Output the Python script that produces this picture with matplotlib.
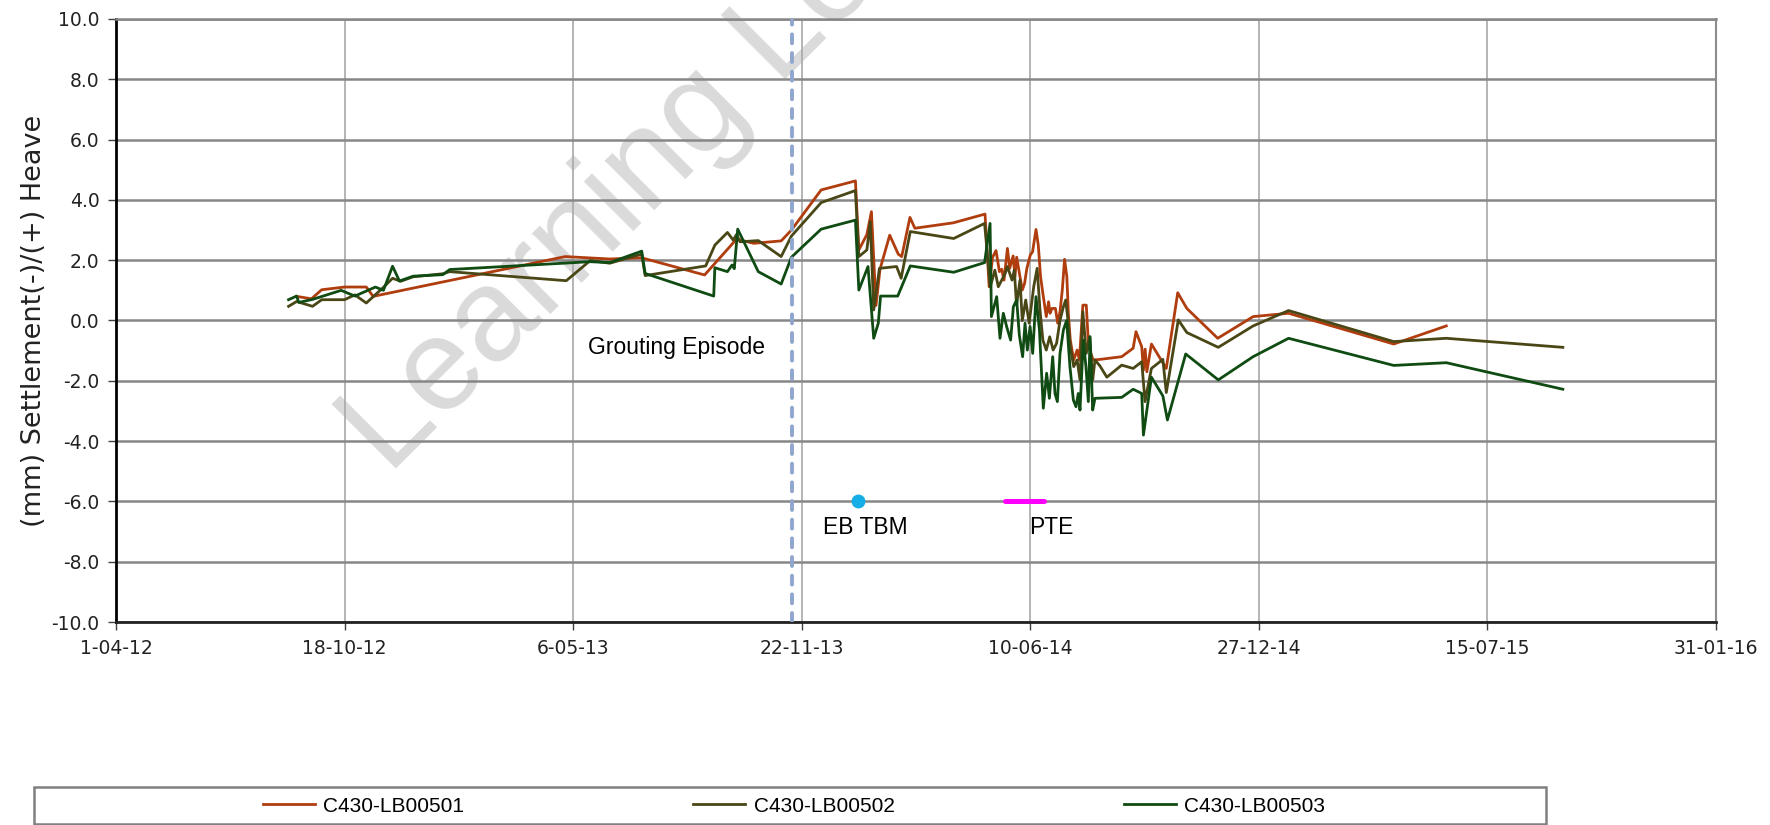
import matplotlib
matplotlib.use('Agg')
import matplotlib.pyplot as plt
from matplotlib.patches import Rectangle
import pandas as pd

# survey dates are given as days after 1 Apr 2012
base_date = '2012-04-01'

days_501 = [158, 171, 180, 200, 219, 225, 393, 432, 460, 515, 543, 558, 582, 591, 617, 647, 650, 657, 661, 665,
            668.5, 677, 684.5, 687.5, 694.7, 699, 732.7, 760.4,
            764, 767, 770, 773, 775, 777, 780, 782, 785, 786.6, 788.1, 791, 793, 795, 797, 800, 802, 805, 807, 809,
            811, 814, 816, 817.3, 819, 822, 824, 826, 828, 830, 832, 833.3, 835, 838, 841, 843, 846, 849, 851, 855,
            861, 880, 890, 892.5, 897.5, 899, 900.5, 902, 906, 919, 929, 937, 964, 995, 1026, 1118, 1164]
vals_501 = [0.80, 0.72, 1.02, 1.11, 1.11, 0.80, 2.12, 2.04, 2.08, 1.51, 2.70, 2.56, 2.64, 3.00, 4.33, 4.63, 2.34, 2.85, 3.61, 0.50,
            1.70, 2.83, 2.20, 2.12, 3.42, 3.06, 3.24, 3.53,
            1.12, 2.10, 2.32, 1.62, 1.70, 1.34, 2.39, 1.73, 2.14, 1.45, 2.10, 1.45, 1.01, 1.23, 1.73, 2.17, 2.28, 3.02, 2.50, 1.45,
            0.90, 0.13, 0.62, 0.24, 0.40, 0.40, -0.09, 0.29, 1.01, 2.03, 1.45, 0.24, -0.65, -1.31, -0.98, -1.31, 0.51, 0.51, -0.87, -1.31,
            -1.29, -1.20, -0.92, -0.37, -0.87, -1.65, -0.95, -1.70, -0.78, -1.59, 0.92, 0.40, -0.59, 0.13, 0.24, -0.78, -0.18]

days_502 = [151, 158, 172, 180, 200, 209, 219, 234, 242, 249, 260, 286, 292, 394, 415, 432, 460, 463, 516, 524,
            535, 540, 543, 546, 562, 582, 591, 617, 647, 650, 657, 660, 663, 668, 683, 687, 695, 733, 760,
            765, 769, 772, 778, 780, 784, 786, 788, 791, 793, 796, 799, 803, 806, 808.5, 811, 814, 817, 820, 823,
            826, 829, 831, 833, 835, 838, 841, 843.5, 846, 849, 852, 854.6, 856.6,
            861, 867, 880, 890, 897.5, 900.4, 906, 916, 919, 929.5, 937, 964.5, 995, 1026, 1118, 1164, 1266]
vals_502 = [0.47, 0.63, 0.47, 0.69, 0.69, 0.85, 0.58, 1.10, 1.40, 1.30, 1.45, 1.55, 1.62, 1.32, 1.99, 1.90, 2.20, 1.49, 1.81, 2.50,
            2.92, 2.67, 2.85, 2.61, 2.65, 2.12, 2.80, 3.91, 4.31, 2.12, 2.34, 3.28, 0.35, 1.73, 1.79, 1.40, 2.95, 2.72, 3.22,
            1.12, 1.67, 1.12, 1.56, 1.79, 1.34, 1.67, 0.51, 1.34, 0.00, 0.68, -0.09, 1.12, 1.73, 0.35, -0.65, -0.98, -0.54, -0.98, -0.76,
            0.00, 0.46, 0.68, 0.00, -0.87, -1.53, -1.31, -1.97, 0.29, -1.09, -0.54, -1.97, -1.31,
            -1.51, -1.88, -1.48, -1.59, -1.37, -2.69, -1.59, -1.29, -2.39, 0.02, -0.40, -0.89, -0.18, 0.33, -0.70, -0.59, -0.89]

days_503 = [151, 158, 160, 172, 197, 209, 227, 234, 242, 248, 260, 286, 292, 415, 432, 460, 463, 523, 524, 535,
            539, 541, 544, 562, 582, 591, 617, 647, 650, 658, 663, 667, 669, 684, 695, 733, 760, 764.8,
            766, 770.6, 773.5, 776.4, 779.3, 782.8, 785.2, 788.1, 790.4, 793.3, 795.4, 797.4, 799.8, 802.1, 805, 808,
            811.4, 814.3, 816.7, 819.6, 821.6, 823.7, 826, 829, 831.8, 834.7, 837.7, 840, 842, 843.5, 846.4, 848.7,
            850.8, 852.3, 854.6, 856.6, 880, 890, 897.5, 899, 906, 916, 920, 936, 964.5, 995, 1026, 1118, 1164, 1266]
vals_503 = [0.69, 0.81, 0.60, 0.70, 1.00, 0.81, 1.11, 1.00, 1.80, 1.31, 1.47, 1.52, 1.69, 1.95, 1.92, 2.30, 1.56, 0.81, 1.75, 1.62,
            1.84, 1.72, 3.03, 1.62, 1.21, 2.10, 3.03, 3.33, 1.01, 1.79, -0.59, -0.09, 0.81, 0.81, 1.81, 1.60, 1.92, 3.22,
            0.13, 0.79, -0.59, 0.24, -0.20, -0.65, 0.46, 0.68, -0.48, -1.20, -0.09, -0.98, -0.20, -1.09, 0.79, -0.31,
            -2.91, -1.75, -2.58, -1.20, -2.42, -2.69, -1.09, -0.31, 0.00, -1.53, -2.64, -2.86, -2.42, -2.97, -0.65, -1.53,
            -2.69, -0.54, -2.97, -2.58, -2.55, -2.28, -2.42, -3.80, -1.88, -2.50, -3.30, -1.11, -1.97, -1.20, -0.59, -1.49, -1.40, -2.28]

labels = ['C430-LB00501', 'C430-LB00502', 'C430-LB00503']
colors = ['#B03D0E', '#4A4716', '#0F4B12']

grouting_day = 591.4
eb_tbm_day = 649
pte_days = [777.6, 812.2]
marker_level = -6.0


def to_dates(days):
    return pd.Timestamp(base_date) + pd.to_timedelta(days, unit='D')


fig = plt.figure(figsize=(17.7, 8.25), dpi=100)
ax = fig.add_axes([116 / 1770, 1 - 622 / 825, 1600 / 1770, 603 / 825])
ax.patch.set_facecolor('none')

# watermark behind everything (cut by the top edge, as in the original)
fig.text(389 / 1770, 1 - 476 / 825, 'Learning Legacy', rotation=45, rotation_mode='anchor',
         ha='left', va='baseline', fontsize=95, color='#DADADA', family='Liberation Sans', zorder=-5)

handles = []
for d, v, lab, c in zip([days_501, days_502, days_503], [vals_501, vals_502, vals_503], labels, colors):
    h, = ax.plot(to_dates(d), v, color=c, lw=2.0, label=lab, zorder=3)
    handles.append(h)

ax.axvline(to_dates(grouting_day), color='#8FA6CF', lw=2.8, dashes=(2.3, 2.5),
           dash_capstyle='round', zorder=4)
ax.plot([to_dates(eb_tbm_day)], [marker_level], 'o', color='#15AEE6', ms=9, zorder=5)
ax.plot(to_dates(pte_days), [marker_level, marker_level], color='#FF00FF', lw=3.6,
        solid_capstyle='round', zorder=5)

ax.text(to_dates(413), -0.9, 'Grouting Episode', ha='left', va='center', fontsize=16.5,
        family='Liberation Sans', zorder=6)
ax.text(to_dates(656), -6.85, 'EB TBM', ha='center', va='center', fontsize=16.5,
        family='Liberation Sans', zorder=6)
ax.text(to_dates(818), -6.85, 'PTE', ha='center', va='center', fontsize=16.5,
        family='Liberation Sans', zorder=6)

# axes, ticks, grid
x_ticks = pd.date_range(base_date, periods=8, freq='200D')
ax.set_xlim(x_ticks[0], x_ticks[-1])
ax.set_xticks(x_ticks)
ax.set_xticklabels([t.strftime('%-d-%m-%y') for t in x_ticks])
ax.set_ylim(-10, 10)
y_ticks = list(range(-10, 11, 2))
ax.set_yticks(y_ticks)
ax.set_yticklabels(['%.1f' % t for t in y_ticks])
ax.tick_params(axis='both', labelsize=13.5, length=6, width=1, color='#404040', labelcolor='#222222')
ax.tick_params(axis='x', pad=6)
ax.tick_params(axis='y', pad=6)

ax.set_axisbelow(True)
ax.yaxis.grid(True, color='#878787', lw=1.8)
ax.xaxis.grid(True, color='#A8A8A8', lw=1.2)
ax.spines['left'].set_color('black')
ax.spines['left'].set_linewidth(2)
ax.spines['bottom'].set_color('#222222')
ax.spines['bottom'].set_linewidth(2)
ax.spines['top'].set_color('#878787')
ax.spines['top'].set_linewidth(1.8)
ax.spines['right'].set_color('#8C8C8C')
ax.spines['right'].set_linewidth(1.5)

ax.set_ylabel('(mm) Settlement(-)/(+) Heave', fontsize=19.5, color='#222222', labelpad=3)

# legend box at the bottom
fig.add_artist(Rectangle((34 / 1770, 1 / 825), 1512 / 1770, 37 / 825, transform=fig.transFigure,
                         fill=False, edgecolor='#808080', lw=1.8))
fig.legend(handles, labels, loc='center', bbox_to_anchor=(794 / 1770, 1 - 806 / 825), ncol=3,
           frameon=False, prop={'family': 'Liberation Sans', 'size': 15}, handlelength=2.5,
           handletextpad=0.4, columnspacing=11.0)

fig.savefig('out.png', dpi=100)
